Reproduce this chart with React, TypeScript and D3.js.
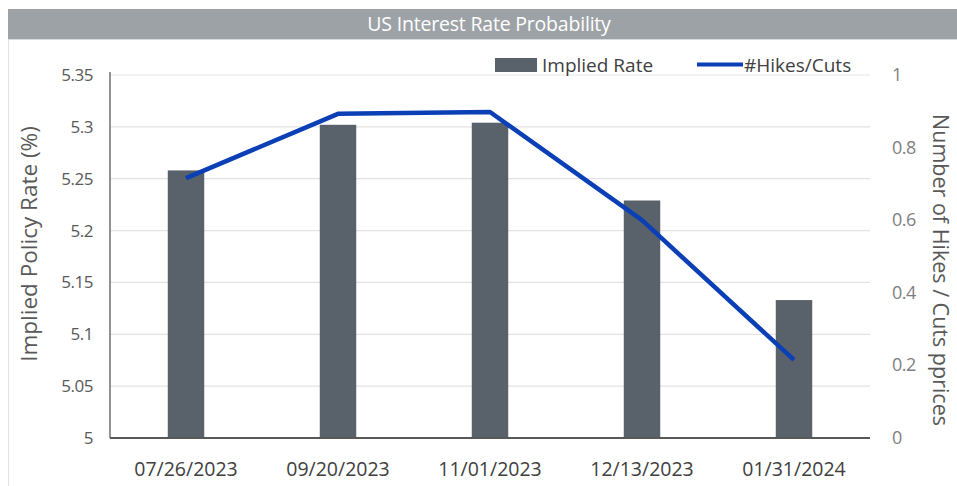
import React from "react";
import * as d3 from "d3";

const categories = ["07/26/2023", "09/20/2023", "11/01/2023", "12/13/2023", "01/31/2024"];
const impliedRate = [5.258, 5.302, 5.304, 5.229, 5.133];
const hikesCuts = [0.716, 0.893, 0.898, 0.6, 0.215];
const leftTicks = [5, 5.05, 5.1, 5.15, 5.2, 5.25, 5.3, 5.35];
const rightTicks = [0, 0.2, 0.4, 0.6, 0.8, 1];

const W = 957;
const H = 486;
const M = { left: 110, right: 870, top: 75, bottom: 438 };
const FONT = "'Open Sans', sans-serif";

export default function App() {
  const x = d3.scaleBand<string>().domain(categories).range([M.left, M.right]).paddingInner(0.76).paddingOuter(0.38);
  const yL = d3.scaleLinear().domain([5, 5.35]).range([M.bottom, M.top]);
  const yR = d3.scaleLinear().domain([0, 1]).range([M.bottom, M.top]);
  const line = d3
    .line<number>()
    .x((_, i) => (x(categories[i]) as number) + x.bandwidth() / 2)
    .y((d) => yR(d));

  return (
    <svg width={W} height={H} style={{ position: "absolute", left: 0, top: 0, background: "#fff" }}>
      <rect x={0} y={0} width={W} height={H} fill="#fff" />
      <line x1={8.5} y1={39} x2={8.5} y2={H} stroke="#e4e4e4" strokeWidth={1} />
      <rect x={8} y={9} width={W - 8} height={30} fill="#9da2a7" />
      <line x1={8} y1={39.5} x2={W} y2={39.5} stroke="#d7dadd" strokeWidth={1} />
      <text x={489} y={31} textAnchor="middle" fill="#fff" fontFamily={FONT} fontSize={19.5} letterSpacing={-0.2}>
        US Interest Rate Probability
      </text>

      {leftTicks.slice(1).map((t) => (
        <line key={t} x1={M.left} x2={M.right} y1={yL(t)} y2={yL(t)} stroke="#e3e3e3" strokeWidth={1.2} />
      ))}

      {impliedRate.map((v, i) => (
        <rect
          key={categories[i]}
          x={x(categories[i])}
          y={yL(v)}
          width={x.bandwidth()}
          height={yL(5) - yL(v)}
          fill="#59626b"
        />
      ))}

      <line x1={M.left} x2={M.left} y1={M.top - 3} y2={M.bottom} stroke="#6f6f6f" strokeWidth={1.5} />
      <line x1={M.left} x2={M.right} y1={M.bottom} y2={M.bottom} stroke="#595959" strokeWidth={2} />

      <path d={line(hikesCuts) || ""} fill="none" stroke="#0a3fb5" strokeWidth={4.5} strokeLinejoin="round" />

      {leftTicks.map((t) => (
        <text key={t} x={93} y={yL(t) + 6} textAnchor="end" fill="#595959" fontFamily={FONT} fontSize={17} letterSpacing={-0.5}>
          {String(t)}
        </text>
      ))}
      {rightTicks.map((t) => (
        <text key={t} x={892} y={yR(t) + 6} textAnchor="start" fill="#7f7f7f" fontFamily={FONT} fontSize={18} letterSpacing={-0.5}>
          {String(t)}
        </text>
      ))}
      {categories.map((c) => (
        <text
          key={c}
          x={(x(c) as number) + x.bandwidth() / 2}
          y={476}
          textAnchor="middle"
          fill="#404040"
          fontFamily={FONT}
          fontSize={19.5}
        >
          {c}
        </text>
      ))}

      <text
        transform={`translate(37,244) rotate(-90)`}
        textAnchor="middle"
        fill="#595959"
        fontFamily={FONT}
        fontSize={22.5}
      >
        Implied Policy Rate (%)
      </text>
      <text
        transform={`translate(933,270) rotate(90)`}
        textAnchor="middle"
        fill="#595959"
        fontFamily={FONT}
        fontSize={21.5}
      >
        Number of Hikes / Cuts pprices
      </text>

      <rect x={495} y={58} width={42} height={14} fill="#59626b" />
      <text x={542} y={72} fill="#404040" fontFamily={FONT} fontSize={19}>
        Implied Rate
      </text>
      <line x1={697} x2={743} y1={64.5} y2={64.5} stroke="#0a3fb5" strokeWidth={4} />
      <text x={744} y={72} fill="#404040" fontFamily={FONT} fontSize={19}>
        #Hikes/Cuts
      </text>
    </svg>
  );
}
